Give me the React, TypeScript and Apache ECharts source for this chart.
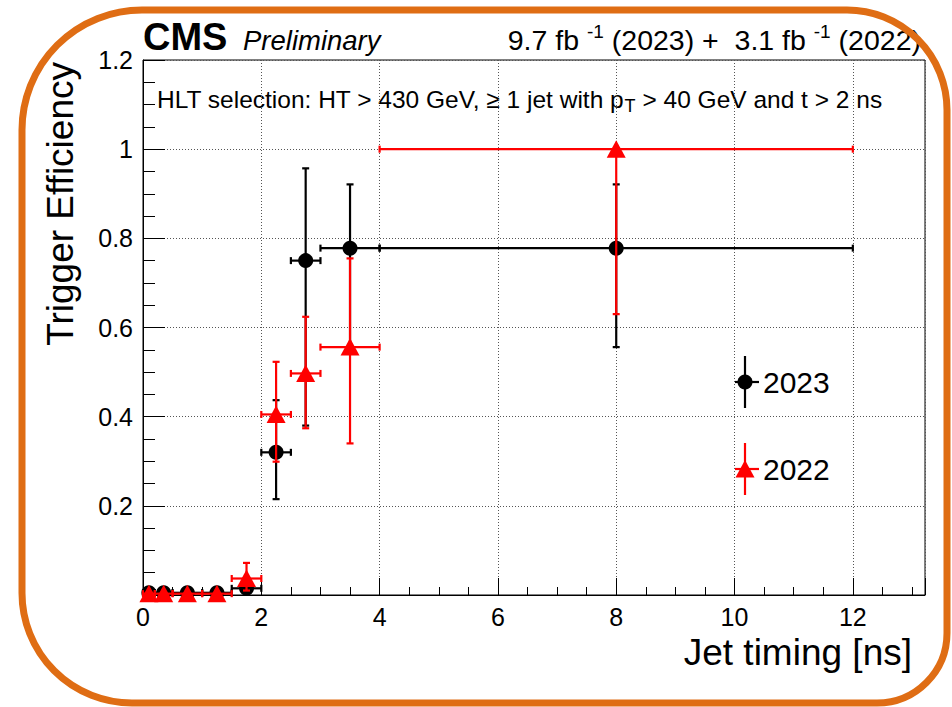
import { useEffect, useRef } from "react";
import * as echarts from "echarts";

const FONT = "'Liberation Sans', Arial, Helvetica, sans-serif";

// Jet-timing bins [ns]
const binLow = [0, 0.2, 0.5, 1, 1.5, 2, 2.5, 3, 4];
const binHigh = [0.2, 0.5, 1, 1.5, 2, 2.5, 3, 4, 12];
const binCenter = [0.1, 0.35, 0.75, 1.25, 1.75, 2.25, 2.75, 3.5, 8];

// 2023 efficiency with lower / upper edges of the uncertainty
const eff2023 = [0.005, 0.005, 0.005, 0.005, 0.015, 0.32, 0.75, 0.778, 0.778];
const low2023 = [0.005, 0.005, 0.005, 0.005, 0.005, 0.215, 0.38, 0.556, 0.556];
const high2023 = [0.005, 0.005, 0.005, 0.005, 0.03, 0.437, 0.957, 0.921, 0.921];

// 2022 efficiency with lower / upper edges of the uncertainty
const eff2022 = [0.003, 0.003, 0.003, 0.003, 0.037, 0.405, 0.497, 0.556, 1.0];
const low2022 = [0.003, 0.003, 0.003, 0.003, 0.01, 0.299, 0.374, 0.34, 0.63];
const high2022 = [0.003, 0.003, 0.003, 0.003, 0.072, 0.523, 0.624, 0.755, 1.0];

// Axis ranges and tick steps
const xRange = [0, 13.22];
const yRange = [0, 1.2];
const xStep = 2;
const yStep = 0.2;

const legendLabels = ["2023", "2022"];

const BLACK = "#000000";
const RED = "#ff0000";
const ORANGE = "#df6d14";

const CAP = 3.5;
const LINE_W = 2.2;

function markerShape(kind: "circle" | "triangle", cx: number, cy: number, color: string) {
  if (kind === "circle") {
    return { type: "circle", shape: { cx, cy, r: 7.5 }, style: { fill: color } };
  }
  return {
    type: "polygon",
    shape: { points: [[cx, cy - 9], [cx - 9.5, cy + 8.5], [cx + 9.5, cy + 8.5]] },
    style: { fill: color },
  };
}

function segment(x1: number, y1: number, x2: number, y2: number, color: string) {
  return { type: "line", shape: { x1, y1, x2, y2 }, style: { stroke: color, lineWidth: LINE_W } };
}

function buildRows(eff: number[], low: number[], high: number[]) {
  return binCenter.map((c, i) => [c, eff[i], binLow[i], binHigh[i], low[i], high[i]]);
}

function makeRenderItem(color: string, kind: "circle" | "triangle") {
  return (_params: any, api: any) => {
    const x = api.value(0);
    const y = api.value(1);
    const xl = api.value(2);
    const xh = api.value(3);
    const yl = api.value(4);
    const yh = api.value(5);
    const c = api.coord([x, y]);
    const l = api.coord([xl, y]);
    const r = api.coord([xh, y]);
    const b = api.coord([x, yl]);
    const t = api.coord([x, yh]);
    const children: any[] = [
      segment(l[0], l[1], r[0], r[1], color),
      segment(l[0], l[1] - CAP, l[0], l[1] + CAP, color),
      segment(r[0], r[1] - CAP, r[0], r[1] + CAP, color),
    ];
    if (yh > y) {
      children.push(segment(c[0], c[1], t[0], t[1], color));
      children.push(segment(t[0] - CAP, t[1], t[0] + CAP, t[1], color));
    }
    if (yl < y) {
      children.push(segment(c[0], c[1], b[0], b[1], color));
      children.push(segment(b[0] - CAP, b[1], b[0] + CAP, b[1], color));
    }
    children.push(markerShape(kind, c[0], c[1], color));
    return { type: "group", children };
  };
}

function legendEntry(cx: number, cy: number, color: string, kind: "circle" | "triangle", label: string) {
  return {
    type: "group",
    children: [
      segment(cx, cy - 26, cx, cy + 26, color),
      segment(cx - 10, cy, cx + 14, cy, color),
      markerShape(kind, cx, cy, color),
      {
        type: "text",
        x: cx + 18,
        y: cy,
        style: {
          text: label,
          font: `30px ${FONT}`,
          fill: BLACK,
          textAlign: "left",
          textVerticalAlign: "middle",
        },
      },
    ],
  };
}

export default function App() {
  const ref = useRef<HTMLDivElement>(null);

  useEffect(() => {
    if (!ref.current) return;
    const chart = echarts.init(ref.current, undefined, { renderer: "svg" });

    const axisCommon = {
      type: "value",
      axisLine: { show: true, onZero: false, lineStyle: { color: BLACK, width: 1 } },
      splitLine: { show: true, lineStyle: { color: "#555", type: [1, 2], width: 1 } },
    };

    const option: any = {
      animation: false,
      backgroundColor: "#ffffff",
      textStyle: { fontFamily: FONT },
      grid: {
        left: 143,
        right: 27,
        top: 60,
        bottom: 112,
        show: true,
        borderColor: BLACK,
        borderWidth: 1,
        backgroundColor: "transparent",
        containLabel: false,
      },
      xAxis: {
        ...axisCommon,
        min: xRange[0],
        max: xRange[1],
        interval: xStep,
        axisTick: { show: true, inside: true, length: 17, lineStyle: { color: BLACK, width: 1 } },
        minorTick: { show: true, splitNumber: 4, length: 8, lineStyle: { color: BLACK, width: 1 } },
        axisLabel: {
          fontSize: 25,
          color: BLACK,
          margin: 9,
          fontFamily: FONT,
          showMaxLabel: false,
        },
      },
      yAxis: {
        ...axisCommon,
        min: yRange[0],
        max: yRange[1],
        interval: yStep,
        axisTick: { show: true, inside: true, length: 22, lineStyle: { color: BLACK, width: 1 } },
        minorTick: { show: true, splitNumber: 4, length: 12, lineStyle: { color: BLACK, width: 1 } },
        axisLabel: {
          fontSize: 25,
          color: BLACK,
          margin: 10,
          fontFamily: FONT,
          showMinLabel: false,
        },
      },
      series: [
        {
          name: legendLabels[0],
          type: "custom",
          renderItem: makeRenderItem(BLACK, "circle"),
          data: buildRows(eff2023, low2023, high2023),
          encode: { x: [0, 2, 3], y: [1, 4, 5] },
          clip: false,
          z: 3,
        },
        {
          name: legendLabels[1],
          type: "custom",
          renderItem: makeRenderItem(RED, "triangle"),
          data: buildRows(eff2022, low2022, high2022),
          encode: { x: [0, 2, 3], y: [1, 4, 5] },
          clip: false,
          z: 4,
        },
      ],
      graphic: [
        {
          type: "text",
          x: 143,
          y: 37,
          style: {
            text: "CMS",
            font: `bold 38px ${FONT}`,
            fill: BLACK,
            textAlign: "left",
            textVerticalAlign: "middle",
          },
        },
        {
          type: "text",
          x: 243,
          y: 40,
          style: {
            text: "Preliminary",
            font: `italic 27.5px ${FONT}`,
            fill: BLACK,
            textAlign: "left",
            textVerticalAlign: "middle",
          },
        },
        {
          type: "text",
          x: 921,
          y: 40,
          style: {
            text: "{a|9.7 fb }{s|-1}{a| (2023) +  3.1 fb }{s|-1}{a| (2022)}",
            textAlign: "right",
            textVerticalAlign: "middle",
            rich: {
              a: { fontSize: 28.5, fontFamily: FONT, fill: BLACK, lineHeight: 36, verticalAlign: "middle" },
              s: { fontSize: 19, fontFamily: FONT, fill: BLACK, lineHeight: 19, verticalAlign: "top" },
            },
          },
        },
        {
          type: "text",
          x: 157,
          y: 99,
          style: {
            text: "{a|HLT selection: HT > 430 GeV, \u2265 1 jet with p}{b|T}{a| > 40 GeV and t > 2 ns}",
            textAlign: "left",
            textVerticalAlign: "middle",
            rich: {
              a: { fontSize: 24.5, fontFamily: FONT, fill: BLACK, lineHeight: 32, verticalAlign: "middle" },
              b: { fontSize: 18, fontFamily: FONT, fill: BLACK, lineHeight: 18, verticalAlign: "bottom" },
            },
          },
        },
        {
          type: "text",
          x: 60,
          y: 62,
          rotation: Math.PI / 2,
          style: {
            text: "Trigger Efficiency",
            font: `37px ${FONT}`,
            fill: BLACK,
            textAlign: "right",
            textVerticalAlign: "middle",
          },
        },
        {
          type: "text",
          x: 912,
          y: 652,
          style: {
            text: "Jet timing [ns]",
            font: `37px ${FONT}`,
            fill: BLACK,
            textAlign: "right",
            textVerticalAlign: "middle",
          },
        },
        legendEntry(745, 382, BLACK, "circle", legendLabels[0]),
        legendEntry(745, 469, RED, "triangle", legendLabels[1]),
        {
          type: "rect",
          z: 100,
          shape: { x: 22, y: 10, width: 925, height: 693, r: [120, 100, 70, 110] },
          style: { fill: "none", stroke: ORANGE, lineWidth: 7 },
        },
      ],
    };

    chart.setOption(option);
    return () => chart.dispose();
  }, []);

  return (
    <div
      ref={ref}
      style={{ position: "fixed", left: 0, top: 0, width: 952, height: 707 }}
    />
  );
}
